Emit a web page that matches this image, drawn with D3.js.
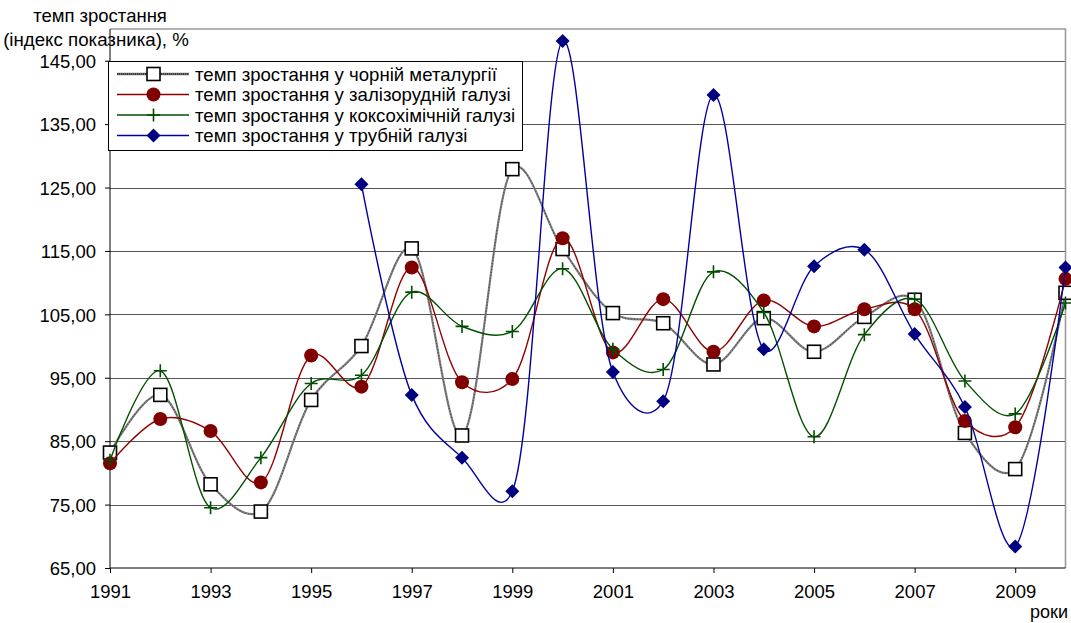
<!DOCTYPE html>
<html><head><meta charset="utf-8">
<script src="https://cdn.jsdelivr.net/npm/d3@7"></script>
<style>
html,body{margin:0;padding:0;background:#fff;}
svg{display:block;font-family:"Liberation Sans",Arial,sans-serif;}
</style></head>
<body>
<svg id="chart" width="1071" height="623"></svg>
<script>
const years = d3.range(1991, 2011);
const yTicks = [65, 75, 85, 95, 105, 115, 125, 135, 145];
const xTicks = [1991, 1993, 1995, 1997, 1999, 2001, 2003, 2005, 2007, 2009];
const seriesNames = [
  "темп зростання у чорній металургії",
  "темп зростання у залізорудній галузі",
  "темп зростання у коксохімічній галузі",
  "темп зростання у трубній галузі"
];
const ferrous = [83.2, 92.3, 78.2, 73.9, 91.5, 100.0, 115.4, 85.9, 127.9, 115.3, 105.2, 103.6, 97.1, 104.4, 99.1, 104.6, 107.3, 86.3, 80.6, 108.4];
const ironOre = [81.5, 88.5, 86.6, 78.5, 98.5, 93.6, 112.4, 94.3, 94.8, 117.0, 99.0, 107.4, 99.1, 107.2, 103.1, 105.8, 105.8, 88.2, 87.2, 110.6];
const coke    = [82.0, 96.1, 74.5, 82.4, 94.1, 95.4, 108.5, 103.1, 102.3, 112.2, 99.5, 96.3, 111.7, 105.3, 85.7, 101.8, 107.4, 94.5, 89.3, 106.8];
const pipe    = [null, null, null, null, null, 125.5, 92.3, 82.4, 77.1, 148.1, 95.9, 91.3, 139.6, 99.5, 112.6, 115.2, 101.9, 90.4, 68.4, 112.4];
const yTitle = ["темп зростання", "(індекс показника), %"];
const xTitle = "роки";

const svg = d3.select("#chart");
const L = 110, R = 1065.5, T = 29, B = 568;
const x = d3.scaleLinear().domain([1991, 2010]).range([L, R]);
const y = d3.scaleLinear().domain([65, 150]).range([B, T]);

// gridlines
svg.append("g").selectAll("line").data(yTicks.filter(v => v > 65)).join("line")
  .attr("x1", L).attr("x2", R).attr("y1", d => Math.round(y(d)) + 0.5).attr("y2", d => Math.round(y(d)) + 0.5)
  .attr("stroke", "#555").attr("stroke-width", 1);

// plot border (top/right)
svg.append("path").attr("d", `M${L},${T}H${R}V${B}`).attr("fill", "none").attr("stroke", "#999").attr("stroke-width", 1.6);

// axes
const yAxis = svg.append("g").attr("transform", `translate(${L},0)`)
  .call(d3.axisLeft(y).tickValues(yTicks).tickSize(5).tickSizeOuter(0).tickFormat(d => d3.format(".2f")(d).replace(".", ",")));
yAxis.select(".domain").attr("d", `M0,${T}V${B}`);
yAxis.selectAll("text").attr("font-size", 18.5).attr("fill", "#000").attr("x", -14).attr("dy", "0.36em");
yAxis.selectAll("line").attr("stroke", "#000");

const xAxis = svg.append("g").attr("transform", `translate(0,${B})`)
  .call(d3.axisBottom(x).tickValues(xTicks).tickSize(5).tickSizeOuter(0).tickFormat(d3.format("d")));
xAxis.select(".domain").attr("d", `M${L},0H${R}`);
xAxis.selectAll("text").attr("font-size", 18.5).attr("fill", "#000").attr("y", 17);
xAxis.selectAll("line").attr("stroke", "#000");

// titles
svg.append("text").attr("x", 100).attr("y", 22).attr("text-anchor", "middle").attr("font-size", 18.5).text(yTitle[0]);
svg.append("text").attr("x", 96).attr("y", 46).attr("text-anchor", "middle").attr("font-size", 18.7).text(yTitle[1]);
svg.append("text").attr("x", 1068).attr("y", 618).attr("text-anchor", "end").attr("font-size", 18).text(xTitle);

const curve = d3.curveCatmullRom.alpha(0.2);
const mk = vals => years.map((yr, i) => ({yr, v: vals[i]})).filter(d => d.v != null);
const lineGen = d3.line().x(d => x(d.yr)).y(d => y(d.v)).curve(curve);

const series = [
  {name: seriesNames[0], data: mk(ferrous), color: "#000", lineColor: "#808080", width: 2.2, marker: "square"},
  {name: seriesNames[1], data: mk(ironOre), color: "#800000", lineColor: "#900000", width: 1.4, marker: "circle"},
  {name: seriesNames[2], data: mk(coke), color: "#004d00", lineColor: "#005000", width: 1.4, marker: "plus"},
  {name: seriesNames[3], data: mk(pipe), color: "#000080", lineColor: "#0000a0", width: 1.4, marker: "diamond"}
];

function drawMarker(g, type, cx, cy, color) {
  if (type === "square") {
    g.append("rect").attr("x", cx - 6.5).attr("y", cy - 6.5).attr("width", 13).attr("height", 13)
      .attr("fill", "#fff").attr("stroke", "#000").attr("stroke-width", 1.6);
  } else if (type === "circle") {
    g.append("circle").attr("cx", cx).attr("cy", cy).attr("r", 7).attr("fill", color);
  } else if (type === "plus") {
    g.append("path").attr("d", `M${cx - 6.5},${cy}H${cx + 6.5}M${cx},${cy - 6.5}V${cy + 6.5}`)
      .attr("stroke", color).attr("stroke-width", 1.6).attr("fill", "none");
  } else if (type === "diamond") {
    g.append("path").attr("d", `M${cx},${cy - 7}L${cx + 7},${cy}L${cx},${cy + 7}L${cx - 7},${cy}Z`).attr("fill", color);
  }
}

series.forEach((s, si) => {
  const g = svg.append("g");
  g.append("path").datum(s.data).attr("d", lineGen).attr("fill", "none")
    .attr("stroke", s.lineColor).attr("stroke-width", s.width);
  if (si === 0) {
    g.append("path").datum(s.data).attr("d", lineGen).attr("fill", "none")
      .attr("stroke", "#444").attr("stroke-width", 1.1).attr("stroke-dasharray", "1 2");
  }
  s.data.forEach(d => drawMarker(g, s.marker, x(d.yr), y(d.v), s.color));
});

// legend
const lg = svg.append("g");
lg.append("rect").attr("x", 108.5).attr("y", 61.5).attr("width", 414).attr("height", 89)
  .attr("fill", "#fff").attr("stroke", "#000").attr("stroke-width", 1);
const rowY = [74, 94.5, 115, 135.5];
series.forEach((s, i) => {
  const ry = rowY[i];
  lg.append("line").attr("x1", 117).attr("x2", 189).attr("y1", ry).attr("y2", ry)
    .attr("stroke", i === 0 ? "#777" : s.lineColor).attr("stroke-width", i === 0 ? 2.6 : 1.4);
  if (i === 0) {
    lg.append("line").attr("x1", 117).attr("x2", 189).attr("y1", ry).attr("y2", ry)
      .attr("stroke", "#222").attr("stroke-width", 1.6).attr("stroke-dasharray", "1 1");
  }
  drawMarker(lg, s.marker, 153.5, ry, s.color);
  lg.append("text").attr("x", 195).attr("y", ry).attr("dy", "0.35em").attr("font-size", 18.6).text(s.name);
});
</script>
</body></html>
